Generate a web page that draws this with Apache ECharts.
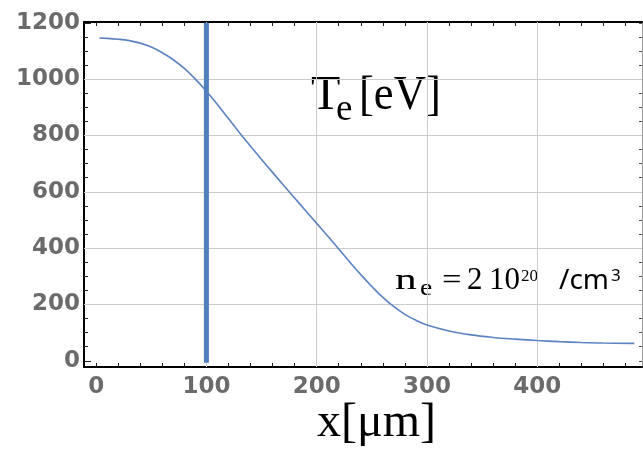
<!DOCTYPE html>
<html>
<head>
<meta charset="utf-8">
<script src="https://cdn.jsdelivr.net/npm/echarts@6/dist/echarts.min.js"></script>
<style>html,body{margin:0;padding:0;background:#fff;}#c{width:643px;height:452px;}</style>
</head>
<body>
<div id="c"></div>
<script>
// ---- data ----
const xPos = [3,10,20,30,40,50,60,70,80,90,100,110,120,130,140,150,160,170,180,190,200,210,220,230,240,250,260,270,280,290,300,320,340,360,380,400,420,440,460,488];
const teValues = [1146,1145,1142,1137,1128,1114,1094,1069,1038,1000,957,910,860,810,762,715,669,623,578,533,488,443,397,351,306,264,225,192,165,144,127,106,92,83,77,72,68,65,63,62];
const markerX = 100;
const markerRange = [-7, 1200];
const xTickLabels = [0,100,200,300,400];
const yTickLabels = [0,200,400,600,800,1000,1200];
const xGridValues = [100,200,300,400];
const yGridValues = [200,400,600,800,1000];
const xMinorTicks = [0,20,40,60,80,100,120,140,160,180,200,220,240,260,280,300,320,340,360,380,400,420,440,460,480];
const yMinorTicks = [0,50,100,150,200,250,300,350,400,450,500,550,600,650,700,750,800,850,900,950,1000,1050,1100,1150,1200];

const X_MIN = -11, X_MAX = 495, Y_MIN = -22, Y_MAX = 1203;
const labelColor = '#6b6b6b';

const chart = echarts.init(document.getElementById('c'), null, {renderer: 'canvas'});

const baseX = {type: 'value', min: X_MIN, max: X_MAX, splitLine: {show: false}};
const baseY = {type: 'value', min: Y_MIN, max: Y_MAX, splitLine: {show: false}};
const plain = v => String(v);

const curveData = xPos.map((x, i) => [x, teValues[i]]);
const markerData = markerRange.map(v => [markerX, v]);

const option = {
  animation: false,
  backgroundColor: '#fff',
  grid: {left: 84, right: 1, top: 22, bottom: 85, containLabel: false},
  xAxis: [
    Object.assign({}, baseX, {
      position: 'bottom',
      axisLine: {onZero: false, lineStyle: {color: '#000', width: 2}},
      axisTick: {inside: true, length: 4, customValues: xMinorTicks, lineStyle: {color: '#222', width: 1}},
      axisLabel: {customValues: xTickLabels, formatter: plain, margin: 9, color: labelColor, fontFamily: 'DejaVu Sans', fontWeight: 'bold', fontSize: 23}
    }),
    Object.assign({}, baseX, {
      position: 'top',
      axisLine: {onZero: false, lineStyle: {color: '#000', width: 2}},
      axisTick: {inside: true, length: 4, customValues: xMinorTicks, lineStyle: {color: '#222', width: 1}},
      axisLabel: {show: false}
    })
  ],
  yAxis: [
    Object.assign({}, baseY, {
      position: 'left',
      axisLine: {onZero: false, lineStyle: {color: '#000', width: 2}},
      axisTick: {inside: true, length: 4, customValues: yMinorTicks, lineStyle: {color: '#222', width: 1}},
      axisLabel: {customValues: yTickLabels, formatter: plain, margin: 4, color: labelColor, fontFamily: 'DejaVu Sans', fontWeight: 'bold', fontSize: 23}
    }),
    Object.assign({}, baseY, {
      position: 'left',
      axisLine: {show: false, onZero: false},
      axisTick: {inside: true, length: 7, customValues: yTickLabels, lineStyle: {color: '#222', width: 1}},
      axisLabel: {show: false}
    }),
    Object.assign({}, baseY, {
      position: 'right',
      axisLine: {onZero: false, lineStyle: {color: '#999', width: 1}},
      axisTick: {inside: true, length: 3, customValues: yMinorTicks, lineStyle: {color: '#555', width: 1}},
      axisLabel: {show: false}
    })
  ],
  series: [
    {
      type: 'line', name: 'grid', data: [], z: 1, silent: true,
      markLine: {
        silent: true, z: 1, symbol: 'none', label: {show: false}, animation: false,
        lineStyle: {color: '#cccccc', width: 1, type: 'solid'},
        emphasis: {disabled: true},
        data: xGridValues.map(v => ({xAxis: v})).concat(yGridValues.map(v => ({yAxis: v})))
      }
    },
    {
      type: 'line', name: 'Te', data: curveData, smooth: 0.4, showSymbol: false, z: 3,
      lineStyle: {color: '#5b83c2', width: 1.6}
    },
    {
      type: 'line', name: 'marker', data: markerData, showSymbol: false, z: 4,
      lineStyle: {color: '#4f7fbd', width: 5}
    }
  ],
  graphic: [
    {type: 'text', x: 311, y: 96.7, style: {text: 'T', font: '48px "Liberation Serif"', fill: '#000', textAlign: 'left', textVerticalAlign: 'middle'}},
    {type: 'text', x: 336, y: 110.5, style: {text: 'e', font: '37px "Liberation Serif"', fill: '#000', textAlign: 'left', textVerticalAlign: 'middle'}},
    {type: 'text', x: 359, y: 96.7, scaleX: 0.93, style: {text: '[eV]', font: '48px "Liberation Serif"', fill: '#000', textAlign: 'left', textVerticalAlign: 'middle'}},

    {type: 'text', x: 395, y: 281, scaleX: 1.45, style: {text: 'n', font: '30px "Liberation Serif"', fill: '#000', textAlign: 'left', textVerticalAlign: 'middle'}},
    {type: 'text', x: 420, y: 289, scaleX: 1.15, style: {text: 'e', font: '24px "Liberation Serif"', fill: '#000', textAlign: 'left', textVerticalAlign: 'middle'}},
    {type: 'text', x: 442, y: 281, scaleX: 1.15, style: {text: '=', font: '30px "Liberation Serif"', fill: '#000', textAlign: 'left', textVerticalAlign: 'middle'}},
    {type: 'text', x: 467, y: 280.5, style: {text: '2', font: '31px "Liberation Serif"', fill: '#000', textAlign: 'left', textVerticalAlign: 'middle'}},
    {type: 'text', x: 489, y: 280.5, style: {text: '10', font: '31px "Liberation Serif"', fill: '#000', textAlign: 'left', textVerticalAlign: 'middle'}},
    {type: 'text', x: 521, y: 277, style: {text: '20', font: '17px "Liberation Serif"', fill: '#000', textAlign: 'left', textVerticalAlign: 'middle'}},
    {type: 'text', x: 559, y: 281, style: {text: '/cm', font: '28px "Noto Sans"', fill: '#000', textAlign: 'left', textVerticalAlign: 'middle'}},
    {type: 'text', x: 611, y: 276, style: {text: '3', font: '17px "Noto Sans"', fill: '#000', textAlign: 'left', textVerticalAlign: 'middle'}},

    {type: 'text', x: 317, y: 423.7, style: {text: 'x[μm]', font: '48px "Liberation Serif"', fill: '#000', textAlign: 'left', textVerticalAlign: 'middle'}}
  ]
};
chart.setOption(option);
</script>
</body>
</html>
